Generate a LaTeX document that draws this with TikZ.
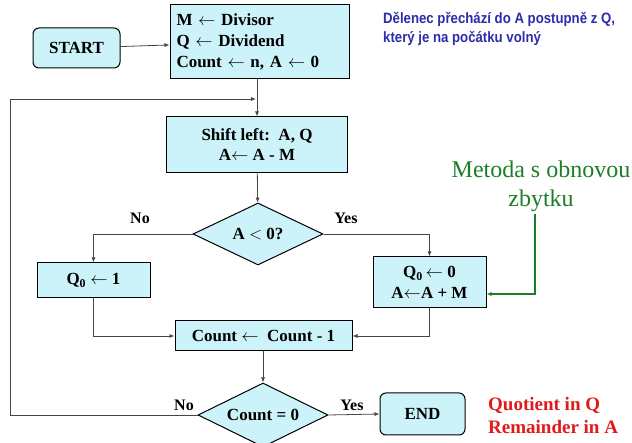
\documentclass[tikz,border=0pt]{standalone}
\usepackage{fontspec}
\setmainfont{Liberation Serif}
\newfontfamily\bluefont{Liberation Sans}[FakeStretch=0.88]
\usetikzlibrary{shapes.geometric,arrows.meta}
\definecolor{boxfill}{RGB}{204,243,250}
\definecolor{bluetxt}{RGB}{45,45,170}
\definecolor{greentxt}{RGB}{30,125,40}
\definecolor{redtxt}{RGB}{225,25,25}
\definecolor{linegray}{RGB}{70,70,70}
\newcommand{\la}{\ensuremath{\leftarrow}}
\tikzset{
  box/.style={draw=black, line width=1pt, fill=boxfill, font=\bfseries\fontsize{17}{20}\selectfont, align=center, inner sep=2pt},
  rbox/.style={box, rounded corners=6pt},
  dia/.style={diamond, draw=black, line width=1pt, fill=boxfill, font=\bfseries\fontsize{17}{20}\selectfont, inner sep=0pt, aspect=2.1},
  conn/.style={draw=linegray, line width=0.8pt, -{Latex[length=5pt,width=4pt]}},
  lbl/.style={font=\bfseries\fontsize{16}{19}\selectfont, inner sep=0pt},
}
\begin{document}
\begin{tikzpicture}[x=1pt,y=-1pt]
\useasboundingbox (0,0) rectangle (632,443);
\fill[white] (0,0) rectangle (632,443);
% nodes
\node[rbox, minimum width=87, minimum height=40] (start) at (76.5,48) {START};
\node[box, minimum width=179, minimum height=74, text width=166, align=left, font=\bfseries\fontsize{17}{21}\selectfont] (init) at (259.5,42)
  {M \la\ Divisor\\Q \la\ Dividend\\Count \la\ n, A \la\ 0};
\node[box, minimum width=181, minimum height=56] (shift) at (257,145) {Shift left:\ \ A, Q\\A\la\ A - M};
\node[dia, minimum width=130, minimum height=62] (d1) at (258,234) {A $<$ 0?};
\node[box, minimum width=113, minimum height=35] (q1) at (93.5,280.5) {Q\textsubscript{0} \la\ 1};
\node[box, minimum width=113, minimum height=51, font=\bfseries\fontsize{17}{21}\selectfont] (q0) at (429.5,282.5) {Q\textsubscript{0}\,\la\ 0\\A\la A + M};
\node[box, minimum width=177, minimum height=30] (cnt) at (263.5,336) {Count \la\ \ Count - 1};
\node[dia, minimum width=130, minimum height=64] (d2) at (263,415) {Count = 0};
\node[rbox, minimum width=85, minimum height=42] (end) at (422.5,414) {END};
% labels
\node[lbl] (no1) at (140,218) {No};
\node[lbl] (yes1) at (346,218) {Yes};
\node[lbl] (no2) at (184,405) {No};
\node[lbl] (yes2) at (352,405) {Yes};
\node[font=\bluefont\bfseries\fontsize{15}{19}\selectfont, text=bluetxt, align=left, anchor=north west, inner sep=0pt] (note) at (383,12)
  {Dělenec přechází do A postupně z Q,\\který je na počátku volný};
\node[font=\fontsize{24}{29}\selectfont, text=greentxt, align=center, inner sep=0pt] (metoda) at (541,186) {Metoda s obnovou\\zbytku};
\node[font=\bfseries\fontsize{19}{23}\selectfont, text=redtxt, align=left, anchor=west, inner sep=0pt] (res) at (488,416) {Quotient in Q\\Remainder in A};
% connectors
\coordinate (loopL1) at (10,415);
\coordinate (loopL2) at (10,99);
\coordinate (loopEnd) at (256,99);
\coordinate (gtop) at (535,214);
\draw[conn] (start) -- (init);
\draw[conn] (init.south -| shift.north) -- (shift.north);
\draw[conn] (shift) -- (d1);
\draw[conn] (d1.west) -| (q1.north);
\draw[conn] (d1.east) -| (q0.north);
\draw[conn] (q1.south) |- (cnt.west);
\draw[conn] (q0.south) |- (cnt.east);
\draw[conn] (cnt.south -| d2.north) -- (d2.north);
\draw[conn] (d2.east) -- (end.west);
\draw[conn] (d2.west) -- (loopL1) -- (loopL2) -- (loopEnd);
\draw[draw=greentxt, line width=1.2pt, -{Latex[length=5pt,width=4pt]}] (gtop) |- ([yshift=-11.5pt]q0.east);
\end{tikzpicture}
\end{document}
